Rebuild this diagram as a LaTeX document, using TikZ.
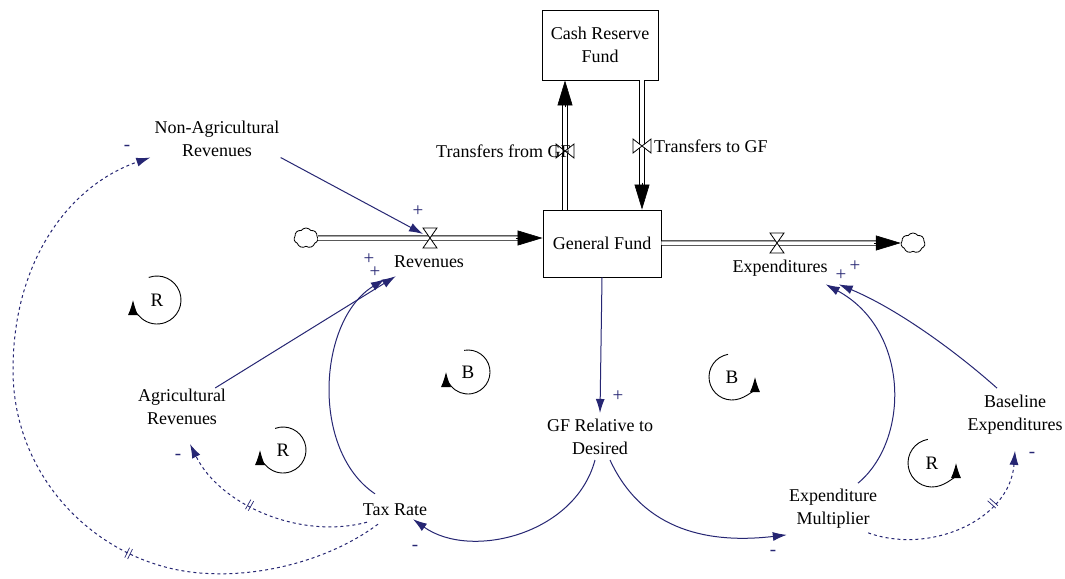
\documentclass[tikz,border=0pt]{standalone}
\usepackage{fontspec}
\setmainfont{Liberation Serif}
\usetikzlibrary{arrows.meta,shapes.symbols,calc}
\definecolor{navy}{RGB}{38,38,115}
\newcommand{\dlymark}{\rule{0.7pt}{11pt}\hspace{2.5pt}\rule{0.7pt}{11pt}}
\tikzset{
  lbl/.style={font=\fontsize{18}{23}\selectfont, align=center, inner sep=1pt, text=black},
  stock/.style={lbl, draw=black, line width=0.9pt, fill=white},
  cloudc/.style={cloud, cloud puffs=7, cloud puff arc=110, aspect=1.2, draw=black, line width=0.8pt, fill=white, minimum width=24pt, minimum height=20pt, inner sep=0pt},
  pipe/.style={draw=black, line width=0.9pt, double=white, double distance=3.5pt},
  pipetip/.style={draw=black, line width=0.6pt, -{Triangle[length=25pt,width=15pt]}},
  link/.style={draw=navy, line width=1pt, -{Latex[length=14pt,width=9pt]}},
  dlink/.style={link, dash pattern=on 3pt off 3pt},
  sgn/.style={font=\fontsize{19}{19}\selectfont, text=navy, inner sep=0pt},
  looptip/.style={draw=black, line width=0.9pt, -{Latex[length=15pt,width=10pt]}},
  loopl/.style={font=\fontsize{19}{19}\selectfont, inner sep=0pt},
  dmark/.style={sloped, inner sep=0pt, text=navy, font=\fontsize{2}{2}\selectfont},
  hvalve/.pic={\draw[black, line width=0.8pt, fill=white] (-7,-10) -- (7,-10) -- (-7,10) -- (7,10) -- cycle;},
  vvalve/.pic={\draw[black, line width=0.8pt, fill=white] (-9,-7) -- (-9,7) -- (9,-7) -- (9,7) -- cycle;},
}
\begin{document}
\begin{tikzpicture}[x=1pt,y=-1pt]
\fill[white] (0,0) rectangle (1065,578);
\useasboundingbox (0,0) rectangle (1065,578);

% stocks and clouds
\node[stock, minimum width=116pt, minimum height=70pt] (crf) at (600,45) {Cash Reserve\\Fund};
\node[stock, minimum width=118pt, minimum height=67pt] (gf) at (602,243.5) {General Fund};
\node[cloudc] (c1) at (306,238) {};
\node[cloudc] (c2) at (913,243) {};

% valve positions
\coordinate (v1) at (430,238);
\coordinate (v2) at (565,151);
\coordinate (v3) at (642,146);
\coordinate (v4) at (777,243);
\coordinate (rin) at (v1 -| gf.west);
\coordinate (tfbot) at (v2 |- gf.north);
\coordinate (tftop) at (v2 |- crf.south);
\coordinate (ttop) at (v3 |- crf.south);
\coordinate (tbot) at (v3 |- gf.north);
\coordinate (eout) at (v4 -| gf.east);

% pipes
\draw[pipe] (c1.east) -- ([xshift=-20pt]rin);
\draw[pipetip] ([xshift=-27pt]rin) -- (rin);
\draw[pipe] (tfbot) -- ([yshift=-20pt]tftop);
\draw[pipetip] ([yshift=-27pt]tftop) -- (tftop);
\draw[pipe] (ttop) -- ([yshift=20pt]tbot);
\draw[pipetip] ([yshift=27pt]tbot) -- (tbot);
\draw[pipe] (eout) -- ([xshift=-20pt]c2.west);
\draw[pipetip] ([xshift=-27pt]c2.west) -- (c2.west);

\pic at (v1) {hvalve};
\pic at (v2) {vvalve};
\pic at (v3) {vvalve};
\pic at (v4) {hvalve};

% flow labels
\node[lbl] (rev) at (429,262) {Revenues};
\node[lbl, anchor=west] (tfl) at (435,151) {Transfers from GF};
\node[lbl, anchor=west] (ttl) at (653,146) {Transfers to GF};
\node[lbl] (expl) at (780,268) {Expenditures};

% auxiliaries
\node[lbl] (nonag) at (217,138.5) {Non-Agricultural\\Revenues};
\node[lbl] (agr) at (182,407) {Agricultural\\Revenues};
\node[lbl] (tax) at (395,510) {Tax Rate};
\node[lbl] (gfr) at (600,437) {GF Relative to\\Desired};
\node[lbl] (em) at (833,509) {Expenditure\\Multiplier};
\node[lbl] (be) at (1015,415) {Baseline\\Expenditures};

% solid links
\draw[link] (nonag.south east) -- ([xshift=-7pt,yshift=4pt]v1);
\draw[link] ([xshift=-12pt]agr.north east) -- ([xshift=3pt,yshift=-7pt]rev.south west);
\draw[link] ([xshift=-20pt,yshift=9pt]tax.north) .. controls (310,450) and (318,320) .. ([xshift=-8pt,yshift=-10pt]rev.south west);
\draw[link] (gf.south) -- ([yshift=5pt]gfr.north);
\draw[link] ([xshift=-5pt,yshift=-4pt]gfr.south) .. controls (575,535) and (470,560) .. ([xshift=18pt,yshift=-2pt]tax.south);
\draw[link] ([xshift=10pt,yshift=-4pt]gfr.south) .. controls (640,525) and (700,545) .. ([xshift=-1pt,yshift=-5pt]em.south west);
\draw[link] ([xshift=25pt,yshift=5pt]em.north) .. controls (910,440) and (910,330) .. ([xshift=-3pt,yshift=-7pt]expl.south east);
\draw[link] ([xshift=-18pt,yshift=6pt]be.north) .. controls (960,355) and (900,310) .. ([xshift=10pt,yshift=-7pt]expl.south east);

% delayed links
\draw[dlink] ([xshift=-17pt,yshift=-7pt]tax.south) .. controls (330,560) and (260,578) .. (200,573)
  .. controls (100,565) and (13,480) .. (13,370) node[dmark,pos=0.25]{\dlymark}
  .. controls (13,260) and (70,185) .. ([xshift=-3pt]nonag.south west);
\draw[dlink] ([xshift=-28pt,yshift=-5pt]tax.south) .. controls (300,540) and (220,505) .. ([xshift=8pt,yshift=-18pt]agr.south) node[dmark,pos=0.58]{\dlymark};
\draw[dlink] ([xshift=-10pt,yshift=-3pt]em.south east) .. controls (930,555) and (1010,520) .. ([yshift=-15pt]be.south) node[dmark,pos=0.7]{\dlymark};

% polarity signs
\node[sgn] (s1) at (418,211) {+};
\node[sgn] (s2) at (369,259) {+};
\node[sgn] (s3) at (375,272) {+};
\node[sgn] (s4) at (618,396) {+};
\node[sgn] (s5) at (415,548) {-};
\node[sgn] (s6) at (773,553) {-};
\node[sgn] (s7) at (841,275) {+};
\node[sgn] (s8) at (855,266) {+};
\node[sgn] (s9) at (127,148) {-};
\node[sgn] (s10) at (178,457) {-};
\node[sgn] (s11) at (1032,455) {-};

% loop symbols
\node[loopl] (L1) at (157,300) {R};
\draw[looptip] (L1.center) ++(-110:24) arc[start angle=-110, end angle=180, radius=24];
\node[loopl] (L2) at (283,450) {R};
\draw[looptip] (L2.center) ++(-110:23) arc[start angle=-110, end angle=180, radius=23];
\node[loopl] (L3) at (468,372) {B};
\draw[looptip] (L3.center) ++(-100:22) arc[start angle=-100, end angle=180, radius=22];
\node[loopl] (L4) at (732,377) {B};
\draw[looptip] (L4.center) ++(-100:23) arc[start angle=-100, end angle=-360, radius=23];
\node[loopl] (L5) at (932,463) {R};
\draw[looptip] (L5.center) ++(-100:24) arc[start angle=-100, end angle=-360, radius=24];
\end{tikzpicture}
\end{document}
